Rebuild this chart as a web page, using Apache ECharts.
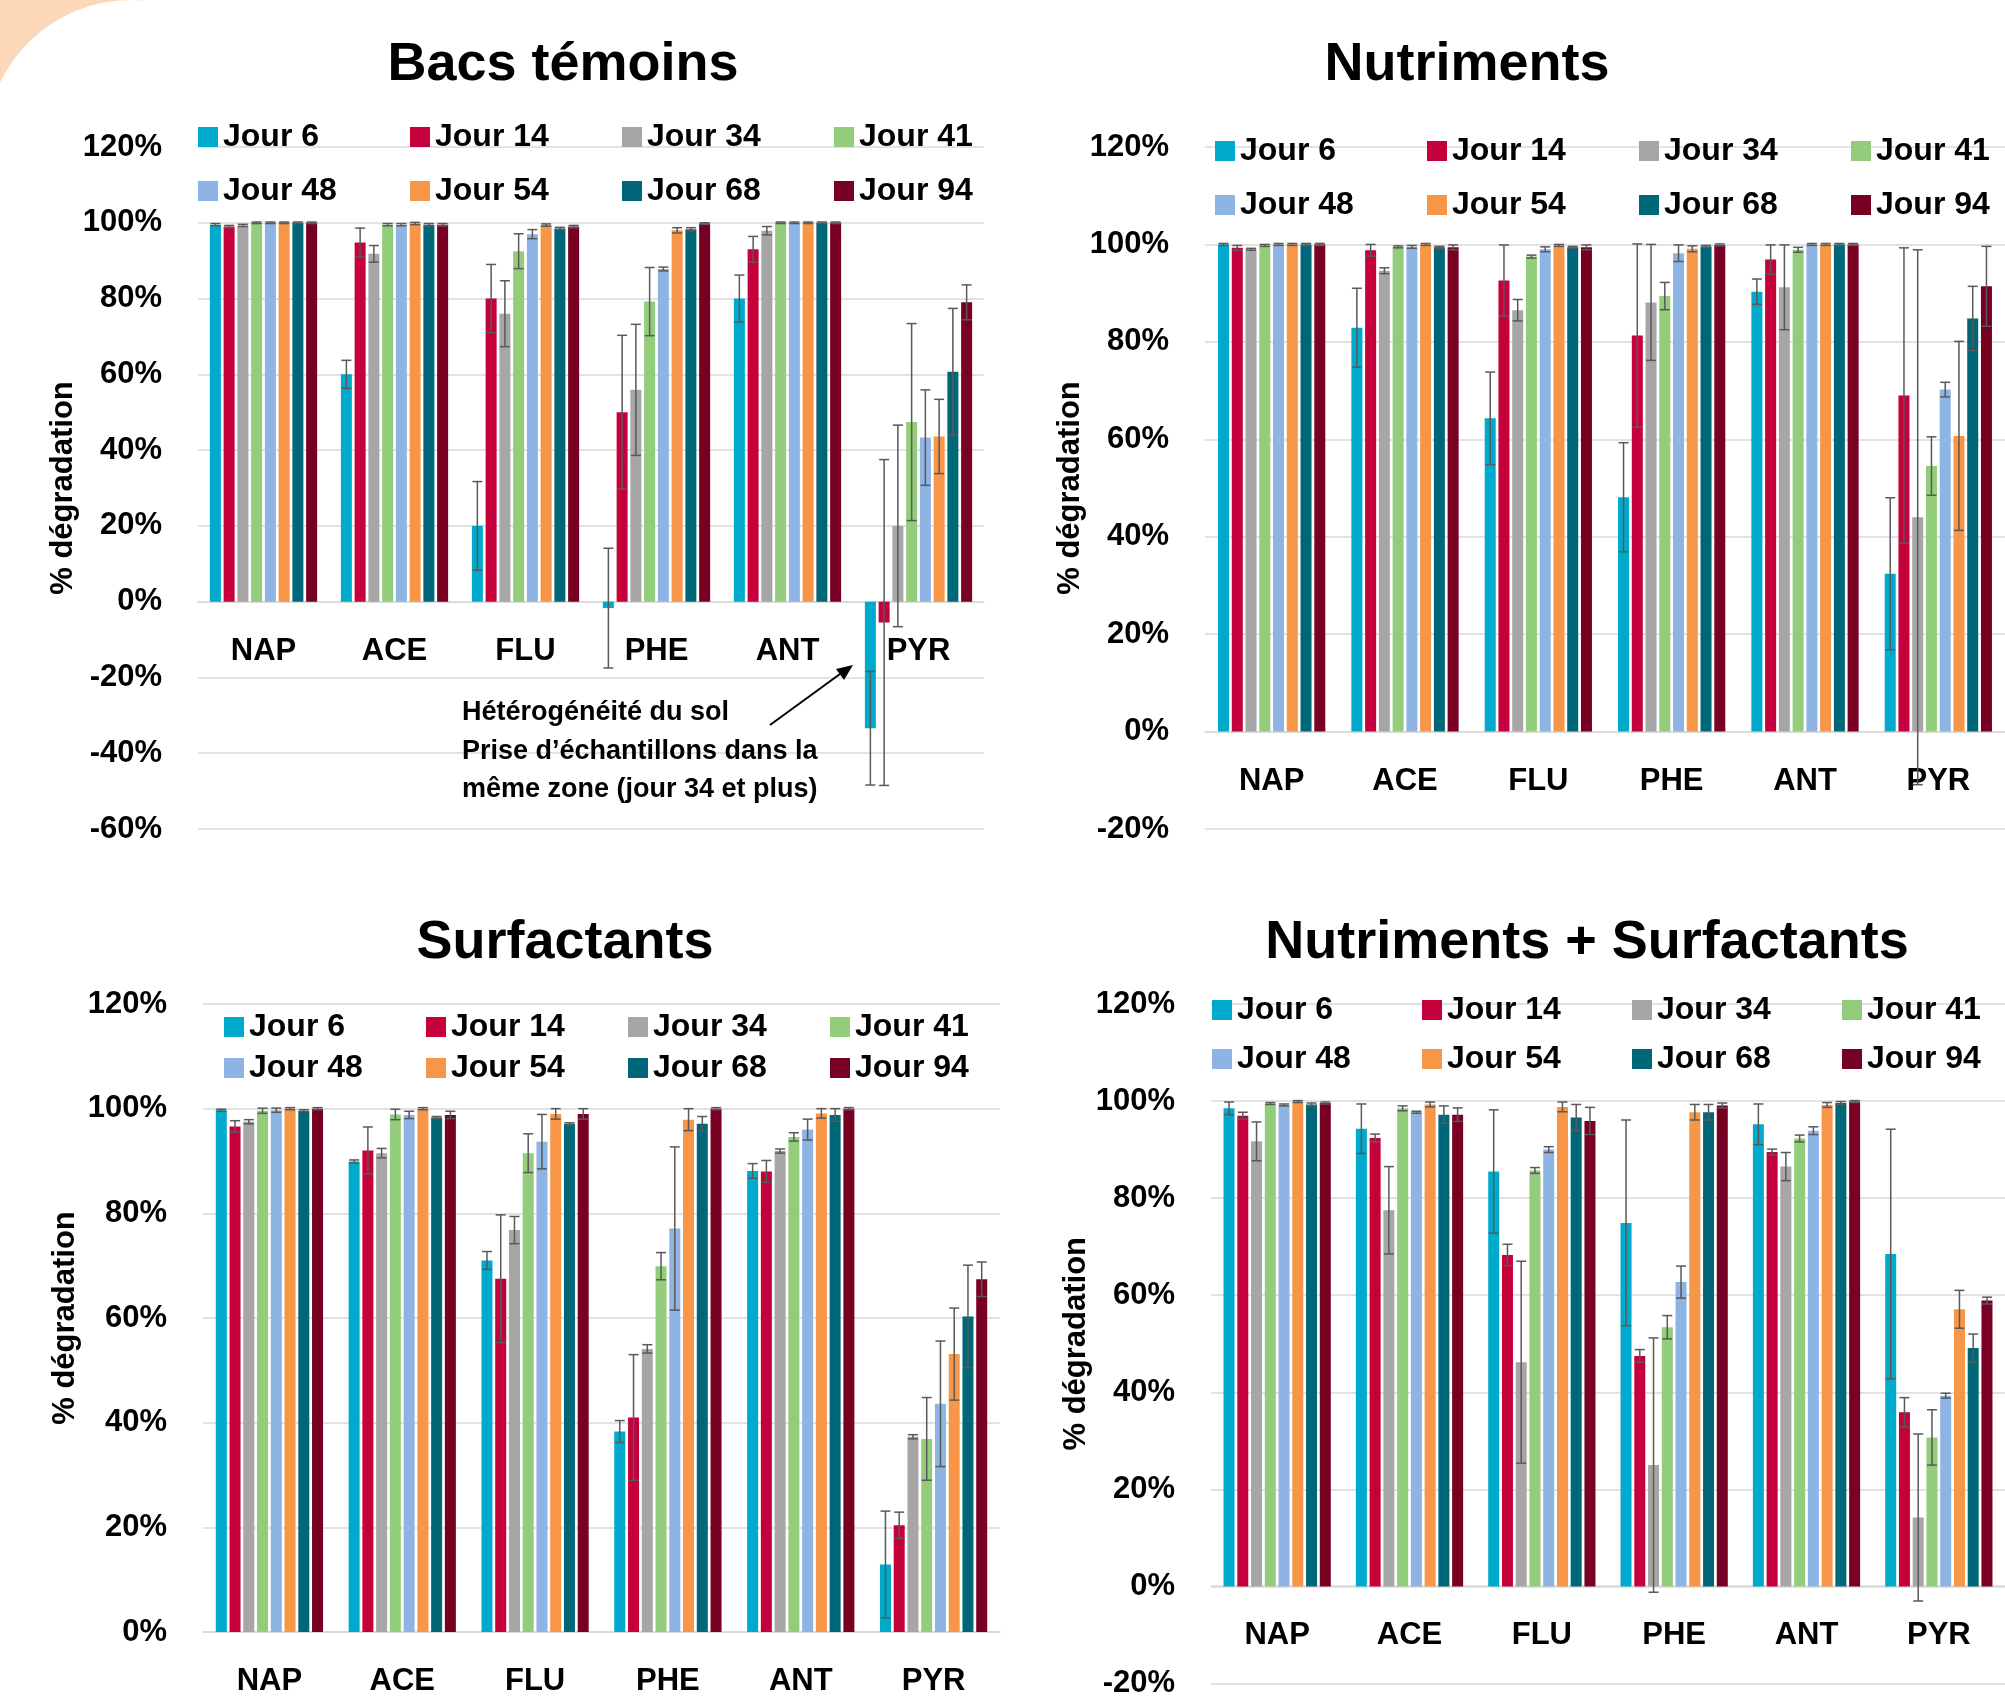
<!DOCTYPE html>
<html>
<head>
<meta charset="utf-8">
<title>Dégradation des HAP</title>
<script src="https://cdn.jsdelivr.net/npm/echarts@6/dist/echarts.min.js"></script>
<style>
  html, body { margin: 0; padding: 0; background: #fff; }
  #main { width: 2005px; height: 1699px; }
</style>
</head>
<body>
<div id="main"></div>
<script>
// categories and series
var categories = ['NAP', 'ACE', 'FLU', 'PHE', 'ANT', 'PYR'];
var jours = ['Jour 6', 'Jour 14', 'Jour 34', 'Jour 41', 'Jour 48', 'Jour 54', 'Jour 68', 'Jour 94'];
var colors = ['#00AACC', '#C5003A', '#A6A6A6', '#93CD7C', '#8EB4E3', '#F79646', '#006778', '#780022'];

// % dégradation, one row per jour, columns follow categories
var temoinsMoy = [
  [99.5, 60, 20, -1.7, 80, -33.4],
  [99, 94.8, 80, 50, 93, -5.5],
  [99.3, 91.8, 76, 55.9, 97.9, 20],
  [100, 99.5, 92.5, 79.2, 100, 47.4],
  [100, 99.5, 97, 87.8, 100, 43.3],
  [100, 99.8, 99.4, 98, 100, 43.6],
  [100, 99.5, 98.5, 98.3, 100, 60.7],
  [100, 99.5, 99, 99.8, 100, 79]
];
var temoinsErr = [
  [0.3, 3.7, 11.7, 15.8, 6.2, 15],
  [0.3, 3.8, 9, 20.3, 3.4, 43],
  [0.3, 2.2, 8.7, 17.3, 1.1, 26.6],
  [0.2, 0.3, 4.6, 9, 0.2, 26],
  [0.2, 0.3, 1.2, 0.5, 0.2, 12.6],
  [0.2, 0.3, 0.3, 0.7, 0.2, 9.8],
  [0.2, 0.3, 0.3, 0.4, 0.2, 16.7],
  [0.2, 0.3, 0.3, 0.2, 0.2, 4.6]
];

var nutriMoy = [
  [100, 82.9, 64.3, 48.1, 90.3, 32.4],
  [99.3, 98.8, 92.6, 81.3, 96.9, 69],
  [99, 94.6, 86.5, 88.1, 91.2, 44],
  [99.8, 99.5, 97.5, 89.4, 98.9, 54.5],
  [100, 99.5, 99, 98.2, 100, 70.2],
  [100, 100, 99.8, 99.1, 100, 60.7],
  [100, 99.4, 99.4, 99.6, 100, 84.8],
  [100, 99.4, 99.4, 99.9, 100, 91.4]
];
var nutriErr = [
  [0.2, 8.1, 9.5, 11.2, 2.6, 15.6],
  [0.5, 1.2, 7.3, 18.8, 3, 30.3],
  [0.2, 0.6, 2.2, 11.9, 8.7, 54.9],
  [0.2, 0.2, 0.3, 2.8, 0.5, 6],
  [0.2, 0.3, 0.5, 1.7, 0.2, 1.5],
  [0.2, 0.2, 0.2, 0.6, 0.2, 19.4],
  [0.2, 0.2, 0.2, 0.2, 0.2, 6.6],
  [0.2, 0.5, 0.5, 0.2, 0.2, 8.2]
];

var surfMoy = [
  [99.7, 89.9, 71, 38.3, 88.1, 12.9],
  [96.6, 92, 67.5, 41, 88, 20.4],
  [97.5, 91.5, 76.8, 54.1, 91.9, 37.3],
  [99.6, 98.9, 91.5, 69.9, 94.6, 36.9],
  [99.7, 98.8, 93.7, 77.1, 96, 43.6],
  [100, 100, 99, 97.9, 99.1, 53.1],
  [99.6, 98.3, 97.1, 97.1, 98.8, 60.3],
  [100, 98.8, 99, 100, 100, 67.4]
];
var surfErr = [
  [0.2, 0.3, 1.7, 2.1, 1.4, 10.2],
  [1.1, 4.5, 12.2, 12, 2.1, 2.5],
  [0.4, 0.9, 2.6, 0.8, 0.4, 0.4],
  [0.5, 1, 3.7, 2.6, 0.8, 7.9],
  [0.4, 0.7, 5.2, 15.6, 2, 12],
  [0.2, 0.2, 1, 2.1, 0.9, 8.8],
  [0.2, 0.2, 0.2, 1.4, 1.2, 9.8],
  [0.2, 0.7, 1, 0.2, 0.2, 3.3]
];

var nutriSurfMoy = [
  [98.5, 94.3, 85.5, 74.9, 95.2, 68.5],
  [97, 92.4, 68.3, 47.5, 89.5, 35.9],
  [91.7, 77.5, 46.2, 25, 86.5, 14.2],
  [99.5, 98.5, 85.7, 53.4, 92.3, 30.7],
  [99.2, 97.7, 90, 62.7, 93.9, 39.3],
  [99.9, 99.3, 98.8, 97.7, 99.2, 57.1],
  [99.3, 97.2, 96.6, 97.7, 99.6, 49.1],
  [99.6, 97.2, 95.9, 99.1, 99.9, 58.9]
];
var nutriSurfErr = [
  [1.3, 5.1, 12.7, 21.2, 4.2, 25.7],
  [0.7, 0.8, 2.2, 1.3, 0.6, 3],
  [4, 9, 20.8, 26.2, 2.9, 17.2],
  [0.2, 0.5, 0.6, 2.4, 0.7, 5.7],
  [0.2, 0.2, 0.6, 3.3, 0.8, 0.5],
  [0.2, 0.5, 1, 1.6, 0.5, 3.9],
  [0.3, 1.8, 2.7, 1.6, 0.3, 2.9],
  [0.2, 1.4, 2.8, 0.5, 0.2, 0.7]
];

var annotation = ['Hétérogénéité du sol', 'Prise d\u2019échantillons dans la', 'même zone (jour 34 et plus)'];

var FONT = 'Liberation Sans';
var BAR_W = 11;
var BAR_GAP = 0.25;
var STEP = BAR_W * (1 + BAR_GAP);
var Y_MAX = 120;

var panels = [
  { title: 'Bacs témoins', moy: temoinsMoy, err: temoinsErr, min: -60,
    grid: {left: 198, top: 147, width: 786, height: 682}, titleX: 563, titleY: 65,
    legendX: 198, legendY: [119, 173], legendGap: 37, nameGap: 116 },
  { title: 'Nutriments', moy: nutriMoy, err: nutriErr, min: -20,
    grid: {left: 1205, top: 147, width: 800, height: 682}, titleX: 1467, titleY: 65,
    legendX: 1215, legendY: [133, 187], legendGap: 37, nameGap: 110 },
  { title: 'Surfactants', moy: surfMoy, err: surfErr, min: 0,
    grid: {left: 203, top: 1004, width: 797, height: 628}, titleX: 565, titleY: 943,
    legendX: 224, legendY: [1009, 1050], legendGap: 27, nameGap: 122 },
  { title: 'Nutriments + Surfactants', moy: nutriSurfMoy, err: nutriSurfErr, min: -20,
    grid: {left: 1211, top: 1004, width: 797, height: 681}, titleX: 1587, titleY: 943,
    legendX: 1212, legendY: [992, 1041], legendGap: 35, nameGap: 116 }
];

function renderErr(params, api) {
  var c = api.value(0), s = api.value(1);
  var lo = api.coord([c, api.value(2)]);
  var hi = api.coord([c, api.value(3)]);
  var x = lo[0] + (s - 3.5) * STEP;
  var st = {stroke: '#595959', lineWidth: 1.5};
  return {
    type: 'group',
    children: [
      {type: 'line', shape: {x1: x, y1: lo[1], x2: x, y2: hi[1]}, style: st},
      {type: 'line', shape: {x1: x - 5, y1: lo[1], x2: x + 5, y2: lo[1]}, style: st},
      {type: 'line', shape: {x1: x - 5, y1: hi[1], x2: x + 5, y2: hi[1]}, style: st}
    ]
  };
}

var option = {
  backgroundColor: '#fff',
  animation: false,
  color: colors,
  title: [],
  legend: [],
  grid: [],
  xAxis: [],
  yAxis: [],
  series: [],
  graphic: []
};

panels.forEach(function (p, k) {
  option.title.push({
    text: p.title, left: p.titleX, top: p.titleY, padding: 0,
    textAlign: 'center', textVerticalAlign: 'middle',
    textStyle: {fontFamily: FONT, fontSize: 54, fontWeight: 'bold', color: '#000'}
  });
  [jours.slice(0, 4), jours.slice(4)].forEach(function (row, r) {
    option.legend.push({
      data: row, left: p.legendX, top: p.legendY[r], width: 1000, padding: 0,
      icon: 'rect', itemWidth: 20, itemHeight: 20, itemGap: p.legendGap,
      selectedMode: false,
      textStyle: {fontFamily: FONT, fontSize: 32, fontWeight: 'bold', color: '#000', width: 150, lineHeight: 36}
    });
  });
  option.grid.push(p.grid);
  // category axis sits on the 0% line, labels just below it
  var zeroShift = p.grid.height * (0 - p.min) / (Y_MAX - p.min);
  option.xAxis.push({
    type: 'category', gridIndex: k, data: categories, position: 'bottom', offset: -zeroShift,
    axisLine: {onZero: false, lineStyle: {color: '#D9D9D9', width: 1.5}},
    axisTick: {show: false},
    axisLabel: {margin: 34, fontFamily: FONT, fontSize: 31, fontWeight: 'bold', color: '#000'}
  });
  option.yAxis.push({
    type: 'value', gridIndex: k, min: p.min, max: Y_MAX, interval: 20,
    name: '% dégradation', nameLocation: 'middle', nameRotate: 90, nameGap: p.nameGap,
    nameTextStyle: {fontFamily: FONT, fontSize: 31, fontWeight: 'bold', color: '#000'},
    axisLine: {show: false}, axisTick: {show: false},
    splitLine: {lineStyle: {color: '#D9D9D9', width: 1.5}},
    axisLabel: {margin: 36, formatter: '{value}%', fontFamily: FONT, fontSize: 31, fontWeight: 'bold', color: '#000'}
  });
  var errData = [];
  jours.forEach(function (j, s) {
    option.series.push({
      name: j, type: 'bar', xAxisIndex: k, yAxisIndex: k,
      barWidth: BAR_W, barGap: (BAR_GAP * 100) + '%',
      itemStyle: {color: colors[s]},
      data: p.moy[s]
    });
    p.moy[s].forEach(function (v, c) {
      errData.push([c, s, v - p.err[s][c], v + p.err[s][c]]);
    });
  });
  option.series.push({
    name: 'err' + k, type: 'custom', xAxisIndex: k, yAxisIndex: k, z: 5,
    renderItem: renderErr, encode: {x: 0, y: [2, 3]}, data: errData
  });
});

// décor du coin et annotation
option.graphic.push(
  {type: 'rect', z: -10, shape: {x: 0, y: 0, width: 141, height: 83}, style: {fill: '#FCD8B9'}},
  {type: 'circle', z: -9, shape: {cx: 131, cy: 145, r: 145}, style: {fill: '#fff'}}
);
annotation.forEach(function (t, i) {
  option.graphic.push({
    type: 'text', x: 462, y: [713, 752, 790][i], z: 10,
    style: {text: t, fontFamily: FONT, fontSize: 27, fontWeight: 'bold', fill: '#000', verticalAlign: 'middle'}
  });
});
option.graphic.push(
  {type: 'line', z: 10, shape: {x1: 770, y1: 725, x2: 840, y2: 674}, style: {stroke: '#000', lineWidth: 2}},
  {type: 'polygon', z: 10, shape: {points: [[853, 665], [844, 680], [836, 669]]}, style: {fill: '#000'}}
);

var myChart = echarts.init(document.getElementById('main'));
myChart.setOption(option);
</script>
</body>
</html>
